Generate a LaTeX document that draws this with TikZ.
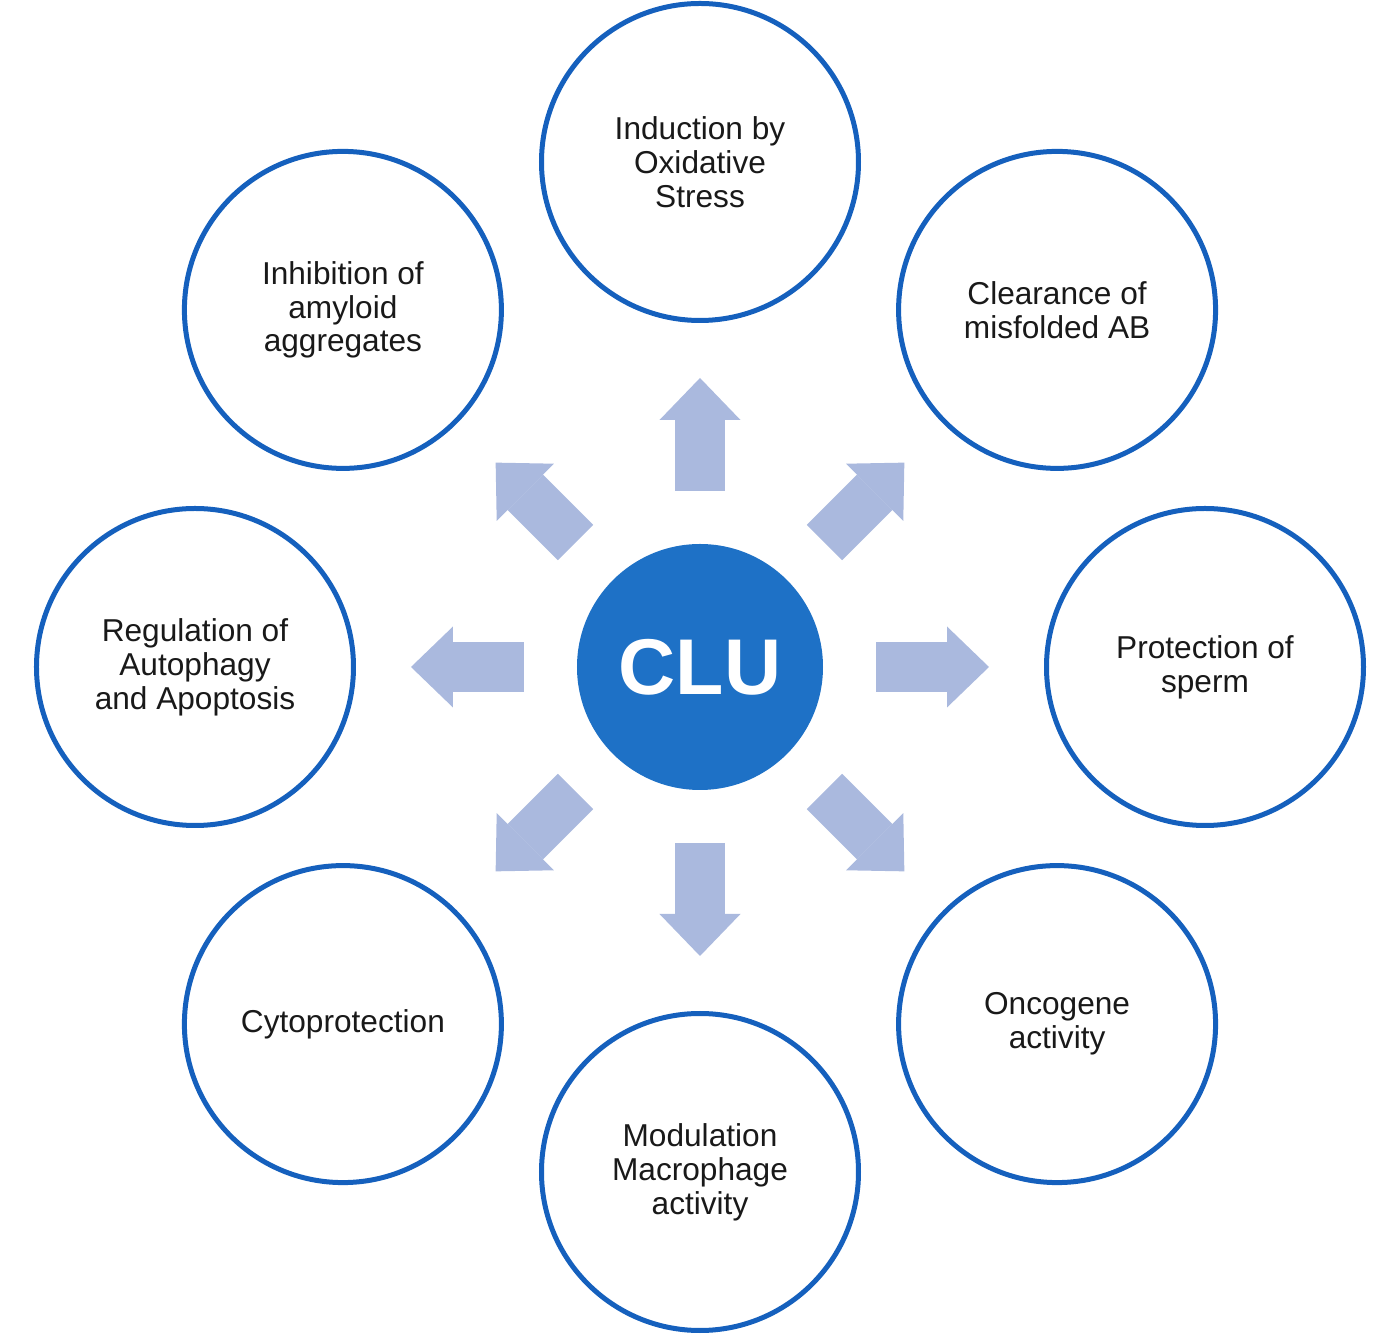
\documentclass[tikz,border=0pt]{standalone}
\usepackage{fontspec}
\setmainfont{Liberation Sans}
\usetikzlibrary{arrows.meta,calc}
\definecolor{clublue}{HTML}{1E71C6}
\definecolor{ringblue}{HTML}{1560BD}
\definecolor{arrowblue}{HTML}{AAB9DE}
\tikzset{
  role/.style={circle, draw=ringblue, line width=0.1cm, minimum size=6.34cm, inner sep=0pt,
    align=center, text=black!90, font=\fontsize{18}{19.3}\selectfont},
  hub/.style={circle, fill=clublue, minimum size=4.92cm, inner sep=0pt, text=white,
    font=\fontsize{45}{45}\selectfont\bfseries},
  blockarrow/.style={arrowblue, line width=1cm,
    -{Triangle[length=0.84cm, width=1.62cm, line width=0pt]}}
}

\begin{document}
\begin{tikzpicture}
    \useasboundingbox (-14,-13.4) rectangle (14,13.34);
    \node[hub] (clu) at (0,0) {CLU};
    \node[role] (stress) at (90:10.1) {Induction by\\Oxidative\\Stress};
    \node[role] (clearance) at (45:10.1) {Clearance of\\misfolded AB};
    \node[role] (sperm) at (0:10.1) {Protection of\\sperm};
    \node[role] (oncogene) at (-45:10.1) {Oncogene\\activity};
    \node[role] (macrophage) at (-90:10.1) {Modulation\\Macrophage\\activity};
    \node[role] (cyto) at (-135:10.1) {Cytoprotection};
    \node[role] (autophagy) at (180:10.1) {Regulation of\\Autophagy\\and Apoptosis};
    \node[role] (amyloid) at (135:10.1) {Inhibition of\\amyloid\\aggregates};
    \foreach \n in {stress,clearance,sperm,oncogene,macrophage,cyto,autophagy,amyloid}
      \draw[blockarrow] ($(clu.center)!3.52cm!(\n.center)$) -- ($(clu.center)!5.78cm!(\n.center)$);
\end{tikzpicture}
\end{document}
